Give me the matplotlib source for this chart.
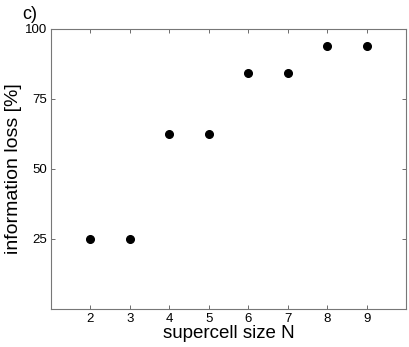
import matplotlib
matplotlib.use("Agg")
import matplotlib.pyplot as plt

plt.rcParams['font.family'] = ['Liberation Sans', 'DejaVu Sans']

supercell_size = [2, 3, 4, 5, 6, 7, 8, 9]
info_loss = [25, 25, 62.5, 62.5, 84.4, 84.4, 93.75, 93.75]
x_ticks = [2, 3, 4, 5, 6, 7, 8, 9]
y_ticks = [25, 50, 75, 100]

fig = plt.figure(figsize=(4.09, 3.47), dpi=100)
ax = fig.add_axes([0.1247, 0.1095, 0.868, 0.807])

ax.plot(supercell_size, info_loss, 'o', color='black', markersize=5.5)

ax.set_xlim(1, 10)
ax.set_ylim(0, 100)
ax.set_xticks(x_ticks)
ax.set_yticks(y_ticks)
ax.tick_params(direction='in', length=3, width=0.6, color='#555555',
               labelsize=9.5, top=True, right=True, pad=3)
for s in ax.spines.values():
    s.set_color('#777777')
    s.set_linewidth(0.8)

ax.set_xlabel('supercell size N', fontsize=13.5, labelpad=0)
ax.set_ylabel('information loss [%]', fontsize=14, labelpad=2)
fig.text(0.055, 0.945, 'c)', fontsize=13)

fig.savefig('out.png', dpi=100)
plt.close()
